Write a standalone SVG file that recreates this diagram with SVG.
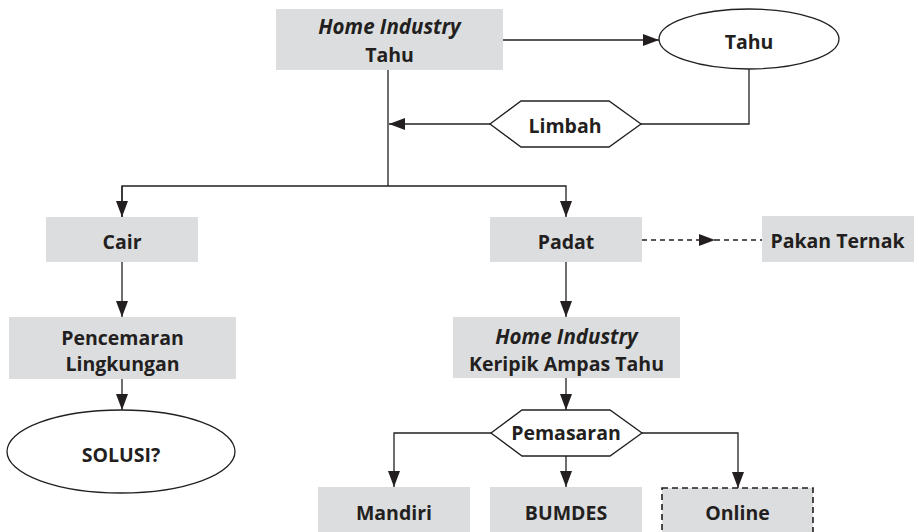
<svg xmlns="http://www.w3.org/2000/svg" width="914" height="532" viewBox="0 0 914 532">
<style>
.box{fill:#dcdddf;stroke:none}
.shape{fill:#fff;stroke:#231f20;stroke-width:1.3}
.dbox{fill:#dcdddf;stroke:#231f20;stroke-width:1.6;stroke-dasharray:6,4}
text{font-family:"Open Sans","Liberation Sans",sans-serif;font-weight:bold;font-size:19.5px;fill:#231f20;text-anchor:middle}
.it{font-style:italic;font-size:20.5px}
.ln{fill:none;stroke:#231f20;stroke-width:1.3}
.dash{stroke-dasharray:5,4}
</style>
<defs>
<marker id="ah" markerUnits="userSpaceOnUse" markerWidth="16" markerHeight="12" refX="16" refY="6" orient="auto">
<path d="M0,0 L16,6 L0,12 z" fill="#231f20"/>
</marker>
</defs>
<g id="connectors">
<path class="ln" d="M503,40 H659" marker-end="url(#ah)"/>
<path class="ln" d="M749,69 V124 H641"/>
<path class="ln" d="M490,124 H389" marker-end="url(#ah)"/>
<path class="ln" d="M388,70 V186"/>
<path class="ln" d="M122,217 V186 H566 V217" marker-end="url(#ah)"/>
<path class="ln" d="M122,186 V217" marker-end="url(#ah)"/>
<path class="ln" d="M122,262 V317" marker-end="url(#ah)"/>
<path class="ln" d="M122,379 V410" marker-end="url(#ah)"/>
<path class="ln dash" d="M642,240 H715" marker-end="url(#ah)"/>
<path class="ln dash" d="M715,240 H762"/>
<path class="ln" d="M566,262 V317" marker-end="url(#ah)"/>
<path class="ln" d="M566,378 V410" marker-end="url(#ah)"/>
<path class="ln" d="M491,433 H394 V487" marker-end="url(#ah)"/>
<path class="ln" d="M566,456 V487" marker-end="url(#ah)"/>
<path class="ln" d="M642,433 H738 V488" marker-end="url(#ah)"/>
</g>
<g id="home-tahu">
<rect class="box" x="276" y="9" width="227" height="61"/>
<text x="389.5" y="34" class="it">Home Industry</text>
<text x="389.5" y="62">Tahu</text>
</g>
<g id="tahu">
<ellipse class="shape" cx="749" cy="39" rx="90" ry="30"/>
<text x="749" y="49">Tahu</text>
</g>
<g id="limbah">
<polygon class="shape" points="490,124 521,101 609,101 641,124 609,147 521,147"/>
<text x="565" y="133">Limbah</text>
</g>
<g id="cair">
<rect class="box" x="46" y="217" width="152" height="45"/>
<text x="122" y="249">Cair</text>
</g>
<g id="padat">
<rect class="box" x="490" y="217" width="152" height="45"/>
<text x="566" y="249">Padat</text>
</g>
<g id="pakan">
<rect class="box" x="762" y="216" width="152" height="46"/>
<text x="837.5" y="248">Pakan Ternak</text>
</g>
<g id="pencemaran">
<rect class="box" x="9" y="317" width="227" height="62"/>
<text x="122.5" y="345">Pencemaran</text>
<text x="122.5" y="371">Lingkungan</text>
</g>
<g id="solusi">
<ellipse class="shape" cx="121" cy="451.5" rx="114" ry="41.5"/>
<text x="121" y="462">SOLUSI?</text>
</g>
<g id="keripik">
<rect class="box" x="453" y="317" width="227" height="61"/>
<text x="566.5" y="344" class="it">Home Industry</text>
<text x="566.5" y="371">Keripik Ampas Tahu</text>
</g>
<g id="pemasaran">
<polygon class="shape" points="491,433 522,410 610,410 642,433 610,456 522,456"/>
<text x="566" y="440">Pemasaran</text>
</g>
<g id="mandiri">
<rect class="box" x="318" y="487" width="152" height="50"/>
<text x="394" y="520">Mandiri</text>
</g>
<g id="bumdes">
<rect class="box" x="490" y="487" width="152" height="50"/>
<text x="566" y="520">BUMDES</text>
</g>
<g id="online">
<rect class="dbox" x="662" y="488" width="151" height="50"/>
<text x="737.5" y="520">Online</text>
</g>
</svg>
